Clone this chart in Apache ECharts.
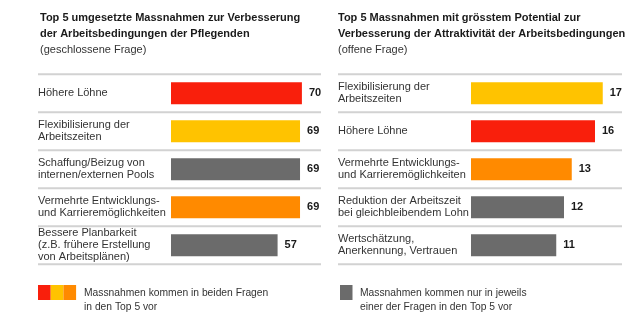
<!DOCTYPE html>
<html><head><meta charset="utf-8">
<script src="https://cdn.jsdelivr.net/npm/echarts@6/dist/echarts.min.js"></script>
<style>html,body{margin:0;padding:0;background:#fff}#c{width:640px;height:326px}</style>
</head><body><div id="c"></div>
<script>
const leftTitle = ['Top 5 umgesetzte Massnahmen zur Verbesserung', 'der Arbeitsbedingungen der Pflegenden'];
const leftSub = '(geschlossene Frage)';
const rightTitle = ['Top 5 Massnahmen mit grösstem Potential zur', 'Verbesserung der Attraktivität der Arbeitsbedingungen'];
const rightSub = '(offene Frage)';

const leftCategories = ['Höhere Löhne', 'Flexibilisierung der\nArbeitszeiten', 'Schaffung/Beizug von\ninternen/externen Pools', 'Vermehrte Entwicklungs-\nund Karrieremöglichkeiten', 'Bessere Planbarkeit\n(z.B. frühere Erstellung\nvon Arbeitsplänen)'];
const leftValues = [70, 69, 69, 69, 57];
const rightCategories = ['Flexibilisierung der\nArbeitszeiten', 'Höhere Löhne', 'Vermehrte Entwicklungs-\nund Karrieremöglichkeiten', 'Reduktion der Arbeitszeit\nbei gleichbleibendem Lohn', 'Wertschätzung,\nAnerkennung, Vertrauen'];
const rightValues = [17, 16, 13, 12, 11];

const legendBoth = 'Massnahmen kommen in beiden Fragen\nin den Top 5 vor';
const legendOne = 'Massnahmen kommen nur in jeweils\neiner der Fragen in den Top 5 vor';

const sharedColors = {
  'Höhere Löhne': '#f91f0c',
  'Flexibilisierung der\nArbeitszeiten': '#ffc300',
  'Vermehrte Entwicklungs-\nund Karrieremöglichkeiten': '#ff8a00'
};
const GRAY = '#6b6b6b';
const colorOf = c => sharedColors[c] || GRAY;

const FONT = '"Liberation Sans", Arial, Helvetica, sans-serif';
const TOP = 74.3, ROWH = 38, NROWS = 5;

function seriesFor(idx, cats, vals) {
  return {
    type: 'bar', xAxisIndex: idx, yAxisIndex: idx, barWidth: 22,
    data: vals.map((v, i) => ({ value: v, itemStyle: { color: colorOf(cats[i]) } })),
    label: { show: true, position: 'right', distance: 7, color: '#1a1a1a', fontWeight: 'bold', fontSize: 11, fontFamily: FONT },
    silent: true, animation: false
  };
}
function yAx(idx, cats) {
  return {
    type: 'category', gridIndex: idx, data: cats, inverse: true,
    axisLine: { show: false }, axisTick: { show: false }, splitLine: { show: false },
    axisLabel: { align: 'left', margin: 133, color: '#333', fontSize: 11, lineHeight: 12, fontFamily: FONT }
  };
}
function xAx(idx, max) {
  return { type: 'value', gridIndex: idx, min: 0, max: max, show: false };
}
function title(x, lines, sub) {
  return {
    left: x, top: 5.5,
    text: lines.map(l => '{b|' + l + '}').join('\n') + '\n{n|' + sub + '}',
    textStyle: { fontWeight: 'normal', fontSize: 11, fontFamily: FONT, rich: {
      b: { fontWeight: 'bold', fontSize: 11, lineHeight: 15.8, color: '#1a1a1a', fontFamily: FONT },
      n: { fontWeight: 'normal', fontSize: 11, lineHeight: 15.8, color: '#333', fontFamily: FONT }
    } }
  };
}

const graphics = [];
[[38, 321], [338, 622]].forEach(([x1, x2]) => {
  for (let i = 0; i <= NROWS; i++) {
    const y = TOP + i * ROWH;
    graphics.push({ type: 'line', shape: { x1: x1, y1: y, x2: x2, y2: y }, style: { stroke: '#d2d2d2', lineWidth: 2 }, silent: true });
  }
});
// legend swatches
['#f91f0c', '#ffc300', '#ff8a00'].forEach((c, i) => {
  graphics.push({ type: 'rect', shape: { x: 38 + i * 12.7, y: 285, width: 12.7, height: 15 }, style: { fill: c }, silent: true });
});
graphics.push({ type: 'text', left: 84, top: 286.5, style: { text: legendBoth, fill: '#333', font: '10.3px ' + FONT, lineHeight: 13.8 } });
graphics.push({ type: 'rect', shape: { x: 340, y: 285, width: 12.5, height: 15 }, style: { fill: GRAY }, silent: true });
graphics.push({ type: 'text', left: 360, top: 286.5, style: { text: legendOne, fill: '#333', font: '10.3px ' + FONT, lineHeight: 13.8 } });

const chart = echarts.init(document.getElementById('c'), null, { renderer: 'canvas' });
chart.setOption({
  animation: false,
  title: [title(35, leftTitle, leftSub), title(333, rightTitle, rightSub)],
  grid: [
    { left: 171, top: TOP, width: 149.6, height: ROWH * NROWS },
    { left: 471, top: TOP, width: 155, height: ROWH * NROWS }
  ],
  xAxis: [xAx(0, 80), xAx(1, 20)],
  yAxis: [yAx(0, leftCategories), yAx(1, rightCategories)],
  series: [seriesFor(0, leftCategories, leftValues), seriesFor(1, rightCategories, rightValues)],
  graphic: graphics
});
</script></body></html>
